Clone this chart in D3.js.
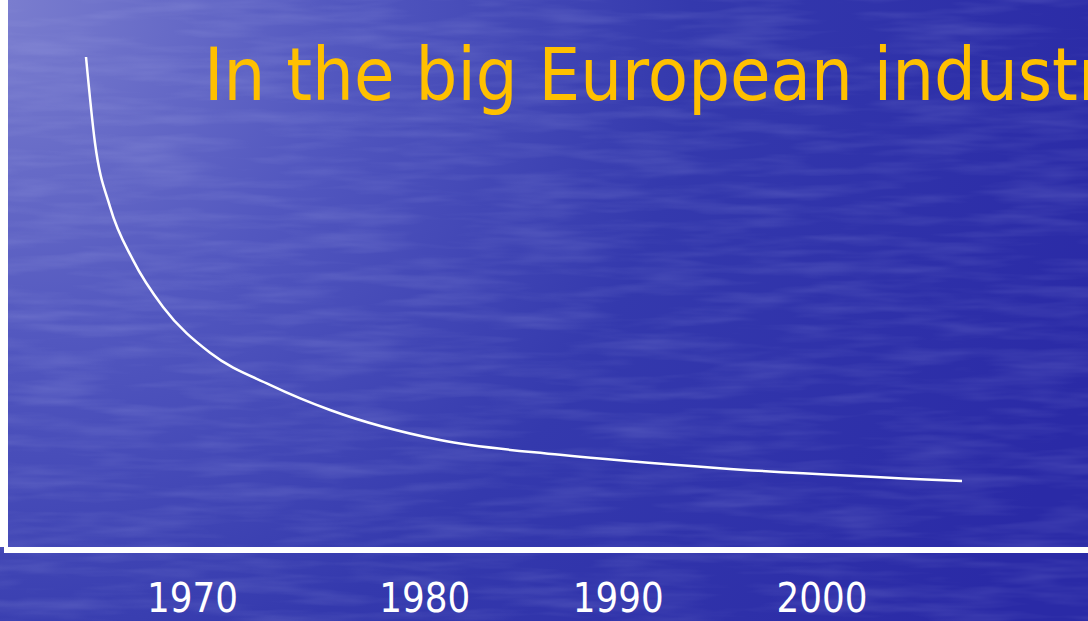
<!DOCTYPE html>
<html>
<head>
<meta charset="utf-8">
<script src="https://cdn.jsdelivr.net/npm/d3@7"></script>
<style>
  html, body { margin: 0; padding: 0; background: #2b2ba6; overflow: hidden; }
  svg { display: block; }
</style>
</head>
<body>
<div id="chart"></div>
<script>
// curve (index, start = 100)
const years  = [1964.0, 1964.44, 1965.18, 1966.31, 1967.78, 1970.09, 1973.03, 1975.98, 1981.38, 1987.27, 1995.12, 2007.0];
const values = [100, 82.6, 69.6, 58.8, 49.3, 40.0, 33.5, 28.4, 22.3, 19.3, 16.6, 14.0];

// year labels under the axis (the slide places them slightly off the grid)
const tickLabels = ["1970", "1980", "1990", "2000"];
const tickAt = [1969.2, 1980.6, 1990.1, 2000.1];

const titleText = "In the big European industry";

const W = 1088, H = 621;

const svg = d3.select("#chart").append("svg")
    .attr("width", W)
    .attr("height", H);

// background: blue slide with light corner + faint streaky texture
let defs = svg.append("defs");
let grad = defs.append("radialGradient")
    .attr("id", "bg")
    .attr("gradientUnits", "userSpaceOnUse")
    .attr("cx", 0).attr("cy", 0).attr("r", 1150);
grad.append("stop").attr("offset", "0").attr("stop-color", "#7b7ecf");
grad.append("stop").attr("offset", "0.3").attr("stop-color", "#5257bf");
grad.append("stop").attr("offset", "0.6").attr("stop-color", "#3439ad");
grad.append("stop").attr("offset", "1").attr("stop-color", "#2a2aa6");

let filt = defs.append("filter").attr("id", "grain")
    .attr("x", 0).attr("y", 0).attr("width", "100%").attr("height", "100%");
filt.append("feTurbulence")
    .attr("type", "fractalNoise")
    .attr("baseFrequency", "0.01 0.08")
    .attr("numOctaves", 3)
    .attr("seed", 4);
filt.append("feColorMatrix")
    .attr("type", "matrix")
    .attr("values", "0 0 0 0 0.7  0 0 0 0 0.72  0 0 0 0 1  0 0 0 1.4 -0.55");

svg.append("rect").attr("width", W).attr("height", H).attr("fill", "url(#bg)");
svg.append("rect").attr("width", W).attr("height", H)
    .attr("filter", "url(#grain)").attr("opacity", 0.18);

// scales
const x = d3.scaleLinear().domain([1964, 2007]).range([86, 962]);
const y = d3.scaleLinear().domain([0, 100]).range([550, 57]);

// axes: thick white L
svg.append("line")
    .attr("x1", 4).attr("x2", 4)
    .attr("y1", 0).attr("y2", y(0) - 3)
    .attr("stroke", "#fff").attr("stroke-width", 8);

svg.append("line")
    .attr("x1", 4).attr("x2", W)
    .attr("y1", y(0)).attr("y2", y(0))
    .attr("stroke", "#fff").attr("stroke-width", 6);

let xAxis = d3.axisBottom(x)
    .tickValues(tickAt)
    .tickFormat((d, i) => tickLabels[i])
    .tickSize(0)
    .tickPadding(0);

let xg = svg.append("g")
    .attr("transform", "translate(0," + (y(0) + 62) + ")")
    .call(xAxis);
xg.select(".domain").remove();
xg.selectAll("text")
    .attr("dy", 0)
    .attr("fill", "#fff")
    .style("font-family", "'DejaVu Sans', Tahoma, sans-serif")
    .style("font-size", "41px")
    .attr("textLength", 91)
    .attr("lengthAdjust", "spacingAndGlyphs");

// the curve
let line = d3.line()
    .x((d, i) => x(years[i]))
    .y(d => y(d))
    .curve(d3.curveMonotoneX);

svg.append("path")
    .datum(values)
    .attr("d", line)
    .attr("fill", "none")
    .attr("stroke", "#fff")
    .attr("stroke-width", 2.5);

// title (runs off the right edge like the slide)
let title = svg.append("text")
    .attr("x", 0).attr("y", 0)
    .attr("fill", "#ffc000")
    .style("font-family", "'DejaVu Sans', Tahoma, sans-serif")
    .style("font-size", "73px")
    .text(titleText);

let visW = title.node().getSubStringLength(0, 26);
let sx = 874 / visW;
title.attr("transform", "translate(204,100) scale(" + sx + ",1)");
</script>
</body>
</html>
